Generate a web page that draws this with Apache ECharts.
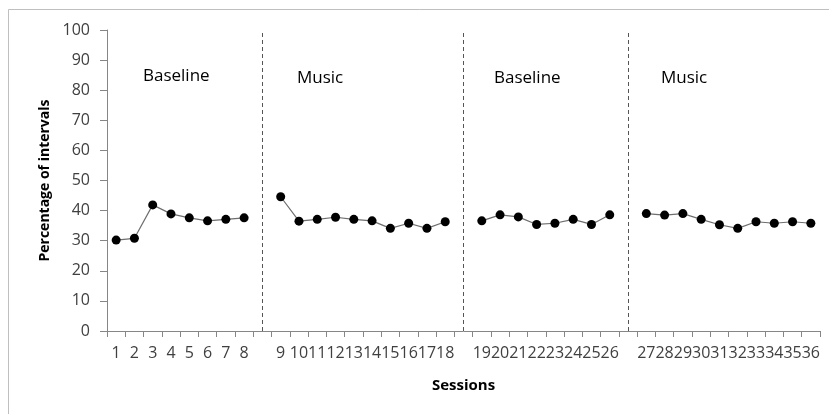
<!DOCTYPE html>
<html>
<head>
<meta charset="utf-8">
<script src="https://cdn.jsdelivr.net/npm/echarts@6/dist/echarts.min.js"></script>
<style>html,body{margin:0;padding:0;background:#fff;}#c{width:829px;height:414px;}</style>
</head>
<body>
<div id="c"></div>
<script>
// Sessions per phase
const phase1Sessions = ['1','2','3','4','5','6','7','8'];
const phase2Sessions = ['9','10','11','12','13','14','15','16','17','18'];
const phase3Sessions = ['19','20','21','22','23','24','25','26'];
const phase4Sessions = ['27','28','29','30','31','32','33','34','35','36'];
// Percentage of intervals per phase
const phase1Values = [30.2, 30.8, 41.9, 38.9, 37.6, 36.6, 37.1, 37.6];
const phase2Values = [44.6, 36.5, 37.1, 37.8, 37.1, 36.6, 34.1, 35.8, 34.1, 36.3];
const phase3Values = [36.6, 38.6, 37.9, 35.4, 35.8, 37.1, 35.4, 38.6];
const phase4Values = [39.0, 38.5, 39.0, 37.1, 35.3, 34.1, 36.3, 35.8, 36.3, 35.8];
const phaseNames = ['Baseline', 'Music', 'Baseline', 'Music'];
const yTicks = [0,10,20,30,40,50,60,70,80,90,100];

// Build category axis with a blank gap category between phases
const gapKeys = ['gapA','gapB','gapC'];
const categories = [].concat(phase1Sessions, [gapKeys[0]], phase2Sessions, [gapKeys[1]], phase3Sessions, [gapKeys[2]], phase4Sessions);
const values = [].concat(phase1Values, [null], phase2Values, [null], phase3Values, [null], phase4Values);

const chart = echarts.init(document.getElementById('c'), null, {renderer: 'canvas'});
const FONT = 'Open Sans';
chart.setOption({
  animation: false,
  backgroundColor: '#fff',
  grid: {left: 107, top: 30, right: 9, bottom: 83},
  xAxis: {
    type: 'category',
    data: categories,
    boundaryGap: true,
    name: 'Sessions',
    nameLocation: 'middle',
    nameGap: 47,
    nameTextStyle: {fontFamily: FONT, fontWeight: 'bold', fontSize: 15, color: '#000'},
    axisLine: {lineStyle: {color: '#868686', width: 1}},
    axisTick: {show: true, alignWithLabel: false, interval: 0, length: 6, lineStyle: {color: '#868686'}},
    axisLabel: {interval: 0, margin: 14, fontFamily: FONT, fontSize: 16, color: '#404040',
      formatter: v => gapKeys.indexOf(v) >= 0 ? '' : v}
  },
  yAxis: {
    type: 'value',
    min: 0, max: 100, interval: 10,
    name: 'Percentage of intervals',
    nameLocation: 'middle',
    nameGap: 54,
    nameRotate: 90,
    nameTextStyle: {fontFamily: FONT, fontWeight: 'bold', fontSize: 14, color: '#000'},
    axisLine: {show: true, lineStyle: {color: '#868686', width: 1}},
    axisTick: {show: true, length: 7, lineStyle: {color: '#868686'}},
    splitLine: {show: false},
    axisLabel: {margin: 17, fontFamily: FONT, fontSize: 16, color: '#404040',
      formatter: v => yTicks.indexOf(v) >= 0 ? String(v) : ''}
  },
  series: [{
    type: 'line',
    data: values,
    connectNulls: false,
    symbol: 'circle',
    symbolSize: 9,
    itemStyle: {color: '#000'},
    lineStyle: {color: '#6e6e6e', width: 1.2},
    markLine: {
      silent: true,
      symbol: ['none','none'],
      label: {show: false},
      lineStyle: {color: '#555', type: [4,3], width: 1},
      data: gapKeys.map(k => ({xAxis: k}))
    }
  }],
  graphic: [
    {type: 'rect', shape: {x: 8.5, y: 9.5, width: 900, height: 500}, style: {fill: 'none', stroke: '#bfbfbf', lineWidth: 1}, silent: true},
    {type: 'text', left: 143, top: 68, style: {text: phaseNames[0], font: '17px "Open Sans"', fill: '#000'}},
    {type: 'text', left: 297, top: 70, style: {text: phaseNames[1], font: '17px "Open Sans"', fill: '#000'}},
    {type: 'text', left: 494, top: 70, style: {text: phaseNames[2], font: '17px "Open Sans"', fill: '#000'}},
    {type: 'text', left: 661, top: 70, style: {text: phaseNames[3], font: '17px "Open Sans"', fill: '#000'}}
  ]
});
</script>
</body>
</html>
